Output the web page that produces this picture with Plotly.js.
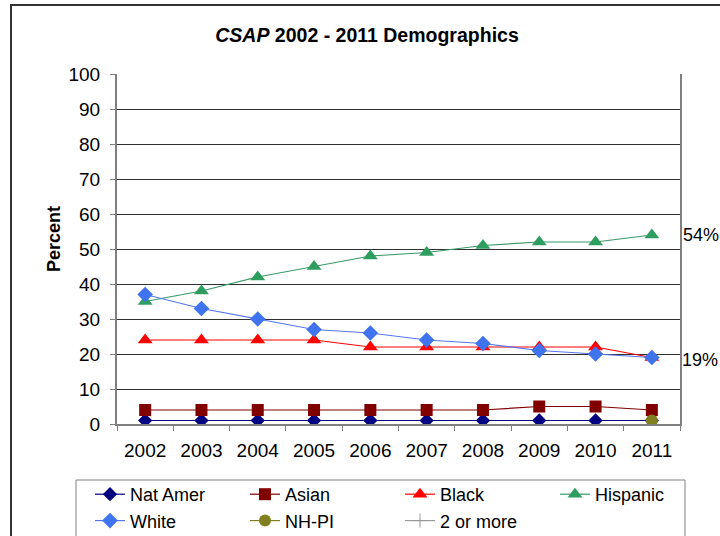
<!DOCTYPE html>
<html>
<head>
<meta charset="utf-8">
<script src="https://cdn.plot.ly/plotly-3.0.1.min.js"></script>
<style>body{margin:0;padding:0;background:#fff}#chart{width:720px;height:536px}</style>
</head>
<body>
<div id="chart"></div>
<script>
const years = ["2002","2003","2004","2005","2006","2007","2008","2009","2010","2011"];
const natAmer  = [1,1,1,1,1,1,1,1,1,1];
const asian    = [4,4,4,4,4,4,4,5,5,4];
const black    = [24,24,24,24,22,22,22,22,22,19];
const hispanic = [35,38,42,45,48,49,51,52,52,54];
const white    = [37,33,30,27,26,24,23,21,20,19];
const nhpi     = [null,null,null,null,null,null,null,null,null,1];
const twoMore  = [null,null,null,null,null,null,null,null,null,null];
const endLabels = ["54%","19%"];
const endValues = [54,19];

function tr(name, y, color, symbol, size, lineColor){
  return {type:'scatter', mode:'lines+markers', name:name, x:years, y:y,
    line:{color:lineColor||color, width:1.2},
    marker:{color:color, symbol:symbol, size:size, line:{width:0}}};
}
const data = [
  tr('Nat Amer', natAmer, '#000080', 'diamond', 11),
  tr('Asian', asian, '#800000', 'square', 12),
  tr('Black', black, '#ff0000', 'triangle-up', 13),
  tr('Hispanic', hispanic, '#2e9e60', 'triangle-up', 13, '#3a9a6a'),
  tr('White', white, '#3f73f0', 'diamond', 12, '#5577ee'),
  tr('NH-PI', nhpi, '#808020', 'circle', 12),
  {type:'scatter', mode:'lines+markers', name:'2 or more', x:years, y:twoMore,
   line:{color:'#999999', width:1.2}, marker:{color:'#999999', symbol:'cross-thin', size:10, line:{width:1, color:'#999999'}}}
];

const px = v => (v-117)/563;
const py = v => (424-v)/350;

const layout = {
  width:720, height:536,
  margin:{l:117, r:40, t:74, b:112, autoexpand:false},
  paper_bgcolor:'#ffffff', plot_bgcolor:'#ffffff',
  font:{family:'Liberation Sans, Arial, sans-serif', color:'#000'},
  title:{text:'<b><i>CSAP</i> 2002 - 2011 Demographics</b>', x:367/720, xref:'container', xanchor:'center', y:1-35/536, yref:'container', yanchor:'middle', font:{size:19.5, color:'#000'}},
  xaxis:{type:'category', range:[-0.5,9.5], showgrid:false, showline:true, linecolor:'#808080', linewidth:2, mirror:false,
    ticks:'outside', tickson:'boundaries', ticklen:5, tickcolor:'#808080', tickfont:{size:19}, ticklabelstandoff:8, fixedrange:true},
  yaxis:{range:[0,100], dtick:10, showgrid:true, gridcolor:'#303030', gridwidth:1, showline:true, linecolor:'#808080', linewidth:2, mirror:true,
    ticks:'outside', ticklen:5, tickcolor:'#808080', tickfont:{size:19}, ticklabelstandoff:6, zeroline:false, fixedrange:true},
  showlegend:true,
  legend:{orientation:'h', x:px(90), xanchor:'left', y:py(476), yanchor:'top',
    entrywidth:110, entrywidthmode:'pixels', borderwidth:0, bgcolor:'rgba(0,0,0,0)',
    font:{size:18}, traceorder:'normal', itemwidth:30},
  annotations:[
    {text:'<b>Percent</b>', xref:'paper', yref:'paper', x:px(42), y:py(239), textangle:-90, showarrow:false, font:{size:18}},
    {text:endLabels[0], xref:'paper', yref:'y', x:1, y:endValues[0], xanchor:'left', xshift:1, showarrow:false, font:{size:18}},
    {text:endLabels[1], xref:'paper', yref:'y', x:1, y:endValues[1], xanchor:'left', xshift:0, yshift:-2, showarrow:false, font:{size:18}}
  ],
  shapes:[
    {type:'rect', xref:'paper', yref:'paper', x0:px(11), x1:px(740), y0:py(560), y1:py(5), line:{color:'#333', width:2}, fillcolor:'rgba(0,0,0,0)', layer:'below'},
    {type:'rect', xref:'paper', yref:'paper', x0:px(76), x1:px(685), y0:py(560), y1:py(480), line:{color:'#808080', width:1}, fillcolor:'rgba(0,0,0,0)', layer:'below'}
  ]
};
Plotly.newPlot('chart', data, layout, {displayModeBar:false, staticPlot:true});
</script>
</body>
</html>
